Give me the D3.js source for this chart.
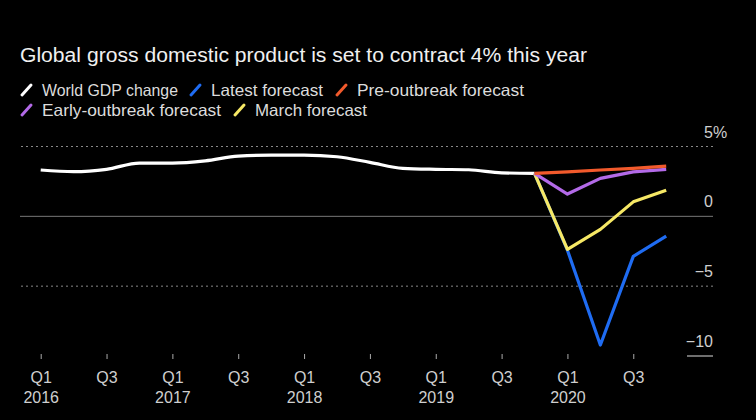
<!DOCTYPE html>
<html>
<head>
<meta charset="utf-8">
<script src="https://cdn.jsdelivr.net/npm/d3@7"></script>
<style>
  html, body { margin: 0; padding: 0; background: #000; }
  svg { display: block; font-family: "Liberation Sans", Arial, sans-serif; }
</style>
</head>
<body>
<svg id="chart" width="756" height="420"></svg>
<script>
// ---- data ----
const quarters = ["Q1 2016","Q2 2016","Q3 2016","Q4 2016","Q1 2017","Q2 2017","Q3 2017","Q4 2017",
  "Q1 2018","Q2 2018","Q3 2018","Q4 2018","Q1 2019","Q2 2019","Q3 2019","Q4 2019",
  "Q1 2020","Q2 2020","Q3 2020","Q4 2020"];
const worldGDP = [3.28, 3.16, 3.33, 3.78, 3.78, 3.94, 4.28, 4.35, 4.35, 4.23, 3.83, 3.40, 3.33, 3.30, 3.08, 3.04];
const forecastQuarters = ["Q4 2019","Q1 2020","Q2 2020","Q3 2020","Q4 2020"];
const latestForecast = [3.04, -2.46, -9.25, -2.9, -1.45];
const preOutbreakForecast = [3.04, 3.15, 3.28, 3.40, 3.56];
const earlyOutbreakForecast = [3.04, 1.56, 2.68, 3.15, 3.33];
const marchForecast = [3.04, -2.40, -0.97, 1.00, 1.84];
const yTicks = [5, 0, -5, -10];
const xTickQuarters = ["Q1 2016","Q3 2016","Q1 2017","Q3 2017","Q1 2018","Q3 2018","Q1 2019","Q3 2019","Q1 2020","Q3 2020"];
const legendItems = [
  {name: "World GDP change", color: "#ffffff"},
  {name: "Latest forecast", color: "#1f6cf2"},
  {name: "Pre-outbreak forecast", color: "#f25a2c"},
  {name: "Early-outbreak forecast", color: "#b36ae8"},
  {name: "March forecast", color: "#f6e865"}
];
const titleText = "Global gross domestic product is set to contract 4% this year";

// ---- chart ----
const svg = d3.select("#chart");
const x = d3.scalePoint().domain(quarters).range([40.7, 666.2]);
const y = d3.scaleLinear().domain([-10, 5]).range([355.5, 146]);

svg.append("text").attr("x", 20).attr("y", 62)
  .attr("fill", "#f0f0f0").attr("font-size", 20)
  .attr("textLength", 567).attr("lengthAdjust", "spacingAndGlyphs").text(titleText);

// legend (layout only)
const legendPos = [[22, 90, 136], [191, 90, 112], [337, 90, 167], [22, 110, 179], [235, 110, 112]];
legendItems.forEach((d, i) => {
  const [lx, ly, lw] = legendPos[i];
  const g = svg.append("g").attr("transform", `translate(${lx},${ly})`);
  g.append("line").attr("x1", 0).attr("y1", 5).attr("x2", 9).attr("y2", -5)
    .attr("stroke", d.color).attr("stroke-width", 3).attr("stroke-linecap", "round");
  g.append("text").attr("x", 20).attr("y", 6).attr("fill", "#dcdcdc")
    .attr("font-size", 16.5).attr("textLength", lw).attr("lengthAdjust", "spacingAndGlyphs").text(d.name);
});

// y axis with gridlines
const gridRight = 713, gridLeft = 20;
const yAxis = d3.axisRight(y).tickValues(yTicks).tickSize(-(gridRight - gridLeft)).tickFormat(d3.format("d"));
const yg = svg.append("g").attr("transform", `translate(${gridRight},0)`).call(yAxis);
yg.select(".domain").remove();
yg.selectAll(".tick line")
  .attr("stroke", d => d === 0 ? "#777" : (d === -10 ? "#dddddd" : "#888"))
  .attr("stroke-width", 1)
  .attr("stroke-dasharray", d => (d === 5 || d === -5) ? "2,3" : null)
  .attr("x1", 0)
  .attr("x2", d => d === -10 ? -26 : -(gridRight - gridLeft));
yg.selectAll(".tick text")
  .attr("x", 0).attr("dy", -9).attr("text-anchor", "end")
  .attr("fill", "#cfcfcf").attr("font-size", 16).attr("font-family", "Liberation Sans, Arial, sans-serif");
yg.selectAll(".tick").filter(d => d === 5).append("text")
  .attr("x", 0).attr("y", 0).attr("dy", -9).attr("text-anchor", "start")
  .attr("fill", "#cfcfcf").attr("font-size", 16).attr("font-family", "Liberation Sans, Arial, sans-serif").text("%");

// x axis
const xAxis = d3.axisBottom(x).tickValues(xTickQuarters).tickSize(5).tickFormat("");
const xg = svg.append("g").attr("transform", "translate(0,354)").call(xAxis);
xg.select(".domain").remove();
xg.selectAll(".tick line").attr("stroke", "#aaa").attr("y1", 0);
xg.selectAll(".tick").each(function(d) {
  const [q, yr] = d.split(" ");
  const t = d3.select(this).append("text").attr("text-anchor", "middle")
    .attr("fill", "#cfcfcf").attr("font-size", 16).attr("font-family", "Liberation Sans, Arial, sans-serif");
  t.append("tspan").attr("x", 0).attr("y", 29).text(q);
  if (q === "Q1") t.append("tspan").attr("x", 0).attr("y", 49).text(yr);
});

// lines
const line = d3.line().x(d => x(d.q)).y(d => y(d.v));
const histData = worldGDP.map((v, i) => ({q: quarters[i], v}));
const fc = arr => arr.map((v, i) => ({q: forecastQuarters[i], v}));

svg.append("path").datum(histData)
  .attr("d", line.curve(d3.curveMonotoneX))
  .attr("fill", "none").attr("stroke", legendItems[0].color).attr("stroke-width", 3.2);

line.curve(d3.curveLinear);
[[latestForecast, 1], [marchForecast, 4], [earlyOutbreakForecast, 3], [preOutbreakForecast, 2]].forEach(([arr, ci]) => {
  svg.append("path").datum(fc(arr)).attr("d", line)
    .attr("fill", "none").attr("stroke", legendItems[ci].color)
    .attr("stroke-width", 3.2).attr("stroke-linejoin", "round");
});
</script>
</body>
</html>
